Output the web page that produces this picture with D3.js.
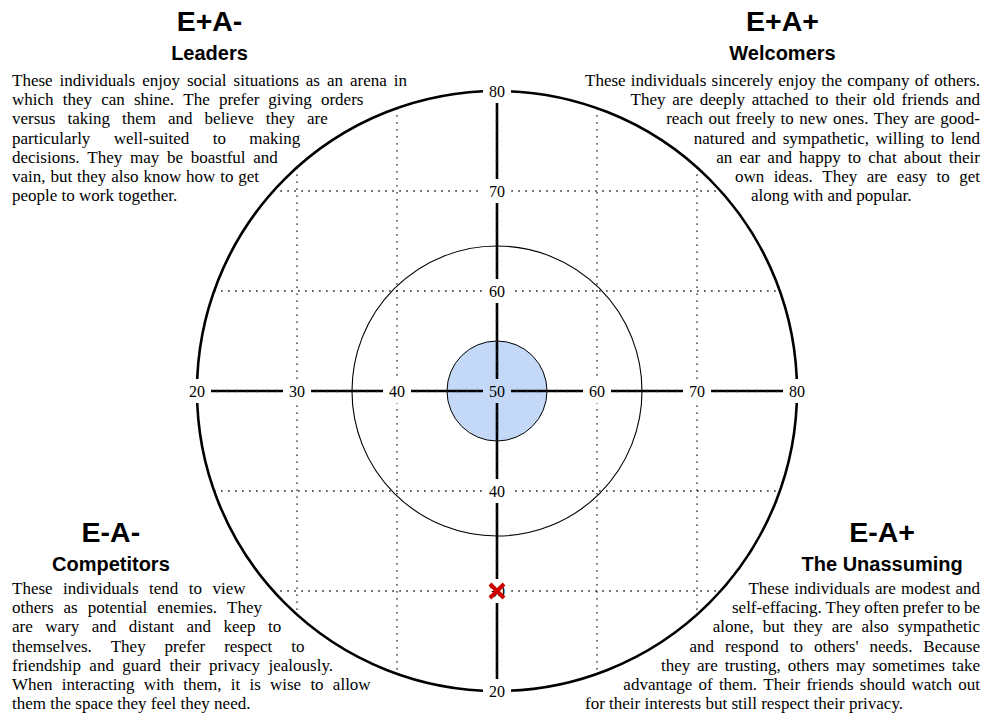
<!DOCTYPE html>
<html>
<head>
<meta charset="utf-8">
<script src="https://cdn.jsdelivr.net/npm/d3@7"></script>
<style>
  body { margin: 0; background: #fff; }
  svg { display: block; }
</style>
</head>
<body>
<svg id="main" width="986" height="714"></svg>
<script>
// tick values on both axes (A horizontal, E vertical)
const hTicks = [20, 30, 40, 50, 60, 70, 80];
const vTicks = [20, 30, 40, 60, 70, 80];
const gridVals = [30, 40, 60, 70];

// circle radii, in score units
const outerR = 30;
const middleR = 14.5;
const coreR = 5;

// the person's scores
const point = {a: 50, e: 30};

const quadrants = [
  {code: "E+A-", name: "Leaders", side: "left", top: true, lines: [
    "These individuals enjoy social situations as an arena in",
    "which they can shine. The prefer giving orders",
    "versus taking them and believe they are",
    "particularly well-suited to making",
    "decisions. They may be boastful and",
    "vain, but they also know how to get",
    "people to work together."
  ]},
  {code: "E+A+", name: "Welcomers", side: "right", top: true, lines: [
    "These individuals sincerely enjoy the company of others.",
    "They are deeply attached to their old friends and",
    "reach out freely to new ones. They are good-",
    "natured and sympathetic, willing to lend",
    "an ear and happy to chat about their",
    "own ideas. They are easy to get",
    "along with and popular."
  ]},
  {code: "E-A-", name: "Competitors", side: "left", top: false, lines: [
    "These individuals tend to view",
    "others as potential enemies. They",
    "are wary and distant and keep to",
    "themselves. They prefer respect to",
    "friendship and guard their privacy jealously.",
    "When interacting with them, it is wise to allow",
    "them the space they feel they need."
  ]},
  {code: "E-A+", name: "The Unassuming", side: "right", top: false, lines: [
    "These individuals are modest and",
    "self-effacing. They often prefer to be",
    "alone, but they are also sympathetic",
    "and respond to others' needs. Because",
    "they are trusting, others may sometimes take",
    "advantage of them. Their friends should watch out",
    "for their interests but still respect their privacy."
  ]}
];

const coreFill = "#c4d8f8";

const svg = d3.select("#main");

const x = d3.scaleLinear().domain([20, 80]).range([197, 797]);
const y = d3.scaleLinear().domain([20, 80]).range([691, 91]);
const r = d => x(50 + d) - x(50);

const cx = x(50), cy = y(50);
const R = r(outerR);

// dotted grid, clipped to the outer circle
const grid = svg.append("g")
  .attr("stroke", "#000")
  .attr("stroke-width", 1.4)
  .attr("stroke-dasharray", "1.4,5.6");

gridVals.forEach(v => {
  const d = Math.abs(x(v) - cx);
  const h = Math.sqrt(R * R - d * d);
  grid.append("line")
    .attr("x1", x(v)).attr("x2", x(v))
    .attr("y1", cy - h).attr("y2", cy + h);
  const dv = Math.abs(y(v) - cy);
  const w = Math.sqrt(R * R - dv * dv);
  grid.append("line")
    .attr("y1", y(v)).attr("y2", y(v))
    .attr("x1", cx - w).attr("x2", cx + w);
});

svg.append("circle")
  .attr("cx", cx).attr("cy", cy).attr("r", r(coreR))
  .attr("fill", coreFill)
  .attr("stroke", "#000")
  .attr("stroke-width", 1);

svg.append("circle")
  .attr("cx", cx).attr("cy", cy).attr("r", r(middleR))
  .attr("fill", "none")
  .attr("stroke", "#000")
  .attr("stroke-width", 1.1);

svg.append("circle")
  .attr("cx", cx).attr("cy", cy).attr("r", R)
  .attr("fill", "none")
  .attr("stroke", "#000")
  .attr("stroke-width", 2.6);

// axes
svg.append("line")
  .attr("x1", x(20)).attr("x2", x(80))
  .attr("y1", cy).attr("y2", cy)
  .attr("stroke", "#000").attr("stroke-width", 2.6);
svg.append("line")
  .attr("x1", cx).attr("x2", cx)
  .attr("y1", y(80)).attr("y2", y(20))
  .attr("stroke", "#000").attr("stroke-width", 2.6);

// faint minor ticks along both axes
const minor = d3.range(21, 80);
svg.append("g").selectAll("line")
  .data(minor)
  .join("line")
    .attr("x1", d => x(d)).attr("x2", d => x(d))
    .attr("y1", cy - 1.8).attr("y2", cy + 1.8)
    .attr("stroke", "#555").attr("stroke-width", 0.5);
svg.append("g").selectAll("line")
  .data(minor)
  .join("line")
    .attr("y1", d => y(d)).attr("y2", d => y(d))
    .attr("x1", cx - 1.8).attr("x2", cx + 1.8)
    .attr("stroke", "#555").attr("stroke-width", 0.5);

// tick labels with a patch behind
const labels = hTicks.map(v => ({v, px: x(v), py: cy}))
  .concat(vTicks.map(v => ({v, px: cx, py: y(v)})));

const lab = svg.append("g").selectAll("g")
  .data(labels)
  .join("g")
    .attr("transform", d => `translate(${d.px},${d.py})`);
lab.append("rect")
  .attr("x", -14).attr("y", -12)
  .attr("width", 28).attr("height", 24)
  .attr("fill", d => d.v === 50 ? coreFill : "#fff");
lab.append("text")
  .attr("text-anchor", "middle")
  .attr("dy", "0.35em")
  .style("font-family", "'Liberation Serif', 'Times New Roman', serif")
  .style("font-size", "16px")
  .text(d => d.v);

// the red cross
const mark = svg.append("g")
  .attr("transform", `translate(${x(point.a)},${y(point.e)})`)
  .attr("stroke", "#cc0000")
  .attr("stroke-width", 4);
mark.append("line").attr("x1", -7).attr("y1", -7).attr("x2", 7).attr("y2", 7);
mark.append("line").attr("x1", -7).attr("y1", 7).attr("x2", 7).attr("y2", -7);

// quadrant texts, wrapped around the circle
const RT = 320;
const LH = 19.2;
const boxL = [12, 407], boxR = [585, 980];

const edge = (yy) => {
  const d = Math.abs(yy - cy);
  return d < RT ? Math.sqrt(RT * RT - d * d) : 0;
};
const span = (side, yy) => {
  const b = edge(yy);
  return side === "left"
    ? [boxL[0], Math.min(boxL[1], cx - b)]
    : [Math.max(boxR[0], cx + b), boxR[1]];
};

quadrants.forEach(q => {
  const g = svg.append("g");
  const y1 = q.top ? 31 : 542;
  const y2 = q.top ? 60 : 571;
  const y3 = q.top ? 86 : 594;

  const hs = span(q.side, y1 - 10);
  const hx = (hs[0] + hs[1]) / 2;

  g.append("text")
    .attr("x", hx).attr("y", y1)
    .attr("text-anchor", "middle")
    .style("font-family", "'Liberation Sans', Arial, sans-serif")
    .style("font-weight", "bold")
    .style("font-size", "28.5px")
    .text(q.code);
  g.append("text")
    .attr("x", hx).attr("y", y2)
    .attr("text-anchor", "middle")
    .style("font-family", "'Liberation Sans', Arial, sans-serif")
    .style("font-weight", "bold")
    .style("font-size", "20px")
    .text(q.name);

  q.lines.forEach((line, i) => {
    const by = y3 + i * LH;
    const [x0, x1] = span(q.side, by - 5);
    const words = line.split(" ");
    const t = g.append("text")
      .attr("y", by)
      .style("font-family", "'Liberation Serif', 'Times New Roman', serif")
      .style("font-size", "17px");
    const spans = words.map(w => t.append("tspan").text(w));
    const widths = spans.map(s => s.node().getComputedTextLength());
    const total = d3.sum(widths);
    const last = i === q.lines.length - 1;
    const gap = (last || words.length < 2) ? 4.25 : (x1 - x0 - total) / (words.length - 1);
    let cur = x0;
    spans.forEach((s, j) => {
      s.attr("x", cur);
      cur += widths[j] + gap;
    });
  });
});
</script>
</body>
</html>
